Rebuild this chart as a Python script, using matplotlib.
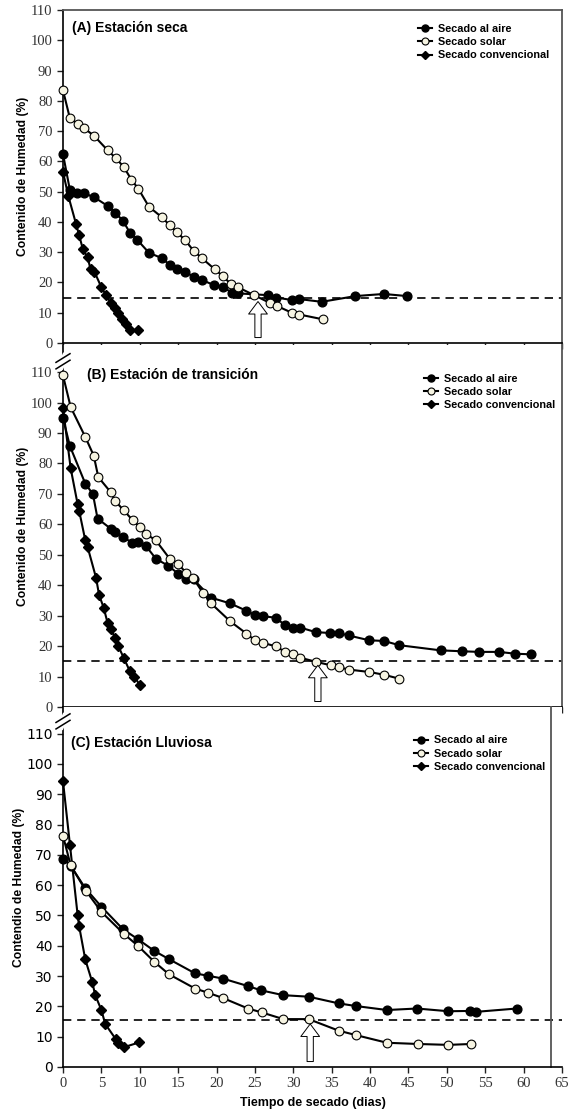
import matplotlib
matplotlib.use("Agg")
import matplotlib.pyplot as plt
import numpy as np

# ---- data ----
# (A) dry season
a_aire_x = [0, 0.9, 1.8, 2.8, 4.1, 5.8, 6.8, 7.8, 8.7, 9.7, 11.2, 12.9, 13.9, 14.8, 15.9,
            17.0, 18.1, 19.7, 20.8, 22.0, 22.8, 26.7, 27.8, 29.8, 30.8, 33.7, 38.1, 41.8, 44.8]
a_aire_y = [62.4, 50.5, 49.6, 49.4, 48.1, 45.3, 43.1, 40.4, 36.5, 34.0, 29.8, 28.0, 25.8, 24.6, 23.5,
            21.9, 20.8, 19.1, 18.6, 16.6, 16.4, 15.8, 15.0, 14.2, 14.5, 13.6, 15.5, 16.2, 15.5]
a_solar_x = [0, 0.9, 1.9, 2.8, 4.1, 5.8, 6.9, 7.9, 8.9, 9.8, 11.2, 12.9, 13.9, 14.8, 15.9,
             17.0, 18.1, 19.8, 20.8, 21.9, 22.8, 24.9, 26.9, 27.9, 29.8, 30.8, 33.9]
a_solar_y = [83.5, 74.2, 72.5, 70.9, 68.3, 63.7, 61.0, 58.2, 54.0, 51.0, 45.0, 41.5, 38.9, 36.7, 34.0,
             30.5, 28.0, 24.3, 22.1, 19.4, 18.4, 15.8, 13.3, 12.2, 10.0, 9.4, 7.8]
a_conv_x = [0, 0.7, 1.7, 2.1, 2.6, 3.2, 3.6, 4.1, 5.0, 5.6, 6.2, 6.8, 7.1, 7.7, 8.2, 8.7, 9.8]
a_conv_y = [56.5, 48.5, 39.3, 35.6, 30.9, 28.3, 24.3, 23.5, 18.4, 15.8, 13.3, 11.4, 9.8, 7.8, 6.2, 4.3, 4.3]

# (B) transition season
b_aire_x = [0, 0.9, 2.9, 3.9, 4.5, 6.2, 6.8, 7.8, 9.0, 9.8, 10.8, 12.1, 13.7, 15.0, 16.0, 17.0,
            19.3, 21.8, 23.9, 25.0, 26.1, 27.8, 28.9, 30.0, 30.9, 32.9, 34.8, 35.9, 37.2, 39.9,
            41.8, 43.8, 49.2, 52.0, 54.2, 56.8, 58.9, 61.0]
b_aire_y = [94.8, 85.7, 73.4, 69.9, 61.9, 58.6, 57.5, 55.8, 54.0, 54.2, 52.9, 48.7, 46.4, 43.8, 42.2, 41.9,
            35.9, 34.0, 31.6, 30.2, 29.8, 29.3, 26.8, 26.1, 26.1, 24.6, 24.3, 24.3, 23.5, 21.9,
            21.7, 20.3, 18.6, 18.3, 18.1, 18.1, 17.5, 17.3]
b_solar_x = [0, 1.0, 2.9, 4.0, 4.6, 6.2, 6.8, 7.9, 9.1, 10.0, 10.8, 12.1, 13.9, 15.0, 16.0, 16.9,
             18.2, 19.3, 21.8, 23.9, 25.0, 26.1, 27.8, 28.9, 30.0, 30.9, 33.0, 34.9, 35.9, 37.2,
             39.9, 41.8, 43.8]
b_solar_y = [108.9, 98.5, 88.7, 82.6, 75.5, 70.6, 67.7, 64.6, 61.3, 59.1, 56.9, 54.7, 48.7, 47.1, 44.1, 42.5,
             37.6, 34.0, 28.1, 24.1, 21.9, 21.0, 19.9, 18.1, 17.3, 16.2, 14.8, 13.7, 13.1, 12.3,
             11.5, 10.6, 9.3]
b_conv_x = [0, 1.0, 1.9, 2.1, 2.9, 3.2, 4.3, 4.7, 5.3, 5.8, 6.2, 6.8, 7.2, 7.9, 8.7, 9.3, 10.0]
b_conv_y = [98.1, 78.4, 66.7, 64.5, 54.8, 52.6, 42.5, 36.8, 32.6, 27.7, 25.5, 22.8, 20.0, 16.2, 11.8, 10.0, 7.2]

# (C) rainy season
c_aire_x = [0, 1.0, 2.9, 5.0, 7.8, 9.8, 11.9, 13.8, 17.2, 18.9, 20.8, 24.1, 25.8, 28.7,
            32.0, 35.9, 38.2, 42.2, 46.1, 50.2, 53.0, 53.8, 59.1]
c_aire_y = [68.8, 66.4, 59.0, 52.9, 45.5, 42.1, 38.3, 35.6, 30.9, 30.1, 29.2, 26.7, 25.3, 23.7,
            23.2, 21.0, 20.1, 18.8, 19.3, 18.4, 18.5, 18.2, 19.3]
c_solar_x = [0, 1.0, 3.0, 5.0, 7.9, 9.8, 11.9, 13.8, 17.2, 18.9, 20.8, 24.1, 25.9, 28.7,
             32.0, 35.9, 38.2, 42.2, 46.2, 50.2, 53.2]
c_solar_y = [76.3, 66.5, 58.1, 51.2, 44.0, 39.9, 34.7, 30.6, 25.9, 24.5, 22.8, 19.3, 18.0, 15.8,
             15.8, 12.0, 10.5, 8.0, 7.6, 7.3, 7.6]
c_conv_x = [0, 0.9, 1.9, 2.1, 2.9, 3.8, 4.2, 5.0, 5.5, 6.9, 7.2, 7.9, 9.9]
c_conv_y = [94.3, 73.4, 50.3, 46.5, 35.5, 28.1, 23.7, 18.8, 14.2, 9.1, 7.8, 6.5, 8.1]

titles = ["(A) Estación seca", "(B) Estación de transición", "(C) Estación Lluviosa"]
ylabels = ["Contenido de Humedad (%)", "Contenido de Humedad (%)", "Contendio de Humedad (%)"]
labels = ["Secado al aire", "Secado solar", "Secado convencional"]
limite = [15, 15, 15.5]
flecha_x = [25.4, 33.2, 32.2]
xlabel = "Tiempo de secado (dias)"

series = [
    (a_aire_x, a_aire_y, a_solar_x, a_solar_y, a_conv_x, a_conv_y),
    (b_aire_x, b_aire_y, b_solar_x, b_solar_y, b_conv_x, b_conv_y),
    (c_aire_x, c_aire_y, c_solar_x, c_solar_y, c_conv_x, c_conv_y),
]

W, H = 569, 1118
boxes = [  # left, bottom, width, height in figure fraction
    [63 / W, (H - 343) / H, 499 / W, 333 / H],
    [63 / W, (H - 707) / H, 499 / W, 362 / H],
    [63 / W, (H - 1067) / H, 499 / W, 360 / H],
]
ytops = [110, 118.9, 118.8]
title_pos = [(1.2, 0.946), (3.1, 0.917), (1.1, 0.899)]
leg_pos = [(0.712, 0.958), (0.724, 0.921), (0.704, 0.921)]

serif = "Liberation Serif"
sans = "Liberation Sans"
solar_fc = "#f6f4e2"

fig = plt.figure(figsize=(W / 100, H / 100), dpi=100)

for i in range(3):
    ax = fig.add_axes(boxes[i])
    ax_x, ay, sx, sy, cx, cy = series[i]
    ax.plot(ax_x, ay, color="k", lw=1.5, marker="o", ms=6.3, mfc="k", mec="k",
            label=labels[0], clip_on=False, zorder=4)
    ax.plot(sx, sy, color="k", lw=1.5, marker="o", ms=6.3, mfc=solar_fc, mec="k",
            mew=0.8, label=labels[1], clip_on=False, zorder=5)
    ax.plot(cx, cy, color="k", lw=1.5, marker="D", ms=4.8, mfc="k", mec="k",
            label=labels[2], clip_on=False, zorder=3)
    ax.axhline(limite[i], color="k", lw=1.2, ls=(0, (5, 3.5)), zorder=2)

    # hollow arrow pointing at the 15 % crossing
    ax.annotate("", xy=(flecha_x[i], limite[i] - 1.3), xytext=(flecha_x[i], 1.8),
                arrowprops=dict(arrowstyle="simple,head_length=0.9,head_width=1.35,tail_width=0.45",
                                fc="white", ec="k", lw=0.7, shrinkA=0, shrinkB=0),
                zorder=6)

    ax.set_xlim(0, 65)
    ax.set_ylim(0, ytops[i])
    ax.set_yticks(np.arange(0, 111, 10))
    ax.set_xticks(np.arange(0, 66, 5))
    ax.tick_params(direction="out", length=4, width=1, color="#222222")
    for lab in ax.get_yticklabels():
        lab.set_fontfamily(serif)
        lab.set_fontsize(10.5)
        lab.set_color("#333333")
    if i < 2:
        ax.set_xticklabels([])
    else:
        for lab in ax.get_xticklabels():
            lab.set_fontfamily(serif)
            lab.set_fontsize(10.5)
            lab.set_color("#333333")
        ax.set_xlabel(xlabel, fontfamily=sans, fontweight="bold", fontsize=9, labelpad=5)

    ax.set_ylabel(ylabels[i], fontfamily=sans, fontweight="bold", fontsize=8.7, labelpad=1)

    for side in ["left", "bottom"]:
        ax.spines[side].set_color("k")
        ax.spines[side].set_linewidth(1.2)
    for side in ["top", "right"]:
        ax.spines[side].set_color("#555555")
        ax.spines[side].set_linewidth(1.3)
    if i > 0:
        ax.spines["top"].set_visible(False)
    if i == 2:
        ax.spines["right"].set_bounds(0, ytops[i])
        ax.spines["right"].set_position(("data", 63.6))

    ax.text(title_pos[i][0], title_pos[i][1], titles[i], transform=ax.get_xaxis_transform(),
            fontfamily=sans, fontweight="bold", fontsize=10, va="center", ha="left")

    leg = ax.legend(loc="upper left", bbox_to_anchor=leg_pos[i], frameon=False,
                    handlelength=1.3, handletextpad=0.5, labelspacing=0.3,
                    borderpad=0, borderaxespad=0, markerscale=0.8,
                    prop=dict(family=sans, weight="bold", size=7.8))

    # axis break marks on panels B and C
    if i > 0:
        yb = 0.955 if i == 1 else 0.96
        t = ax.transAxes
        ax.plot([-0.004, 0.004], [yb - 0.012, yb + 0.012], color="white", lw=5,
                transform=t, clip_on=False, zorder=7)
        for d in (-0.009, 0.009):
            ax.plot([-0.014, 0.014], [yb - 0.012 + d, yb + 0.012 + d], color="k", lw=1.1,
                    transform=t, clip_on=False, zorder=8)

fig.savefig("out.png", dpi=100)
